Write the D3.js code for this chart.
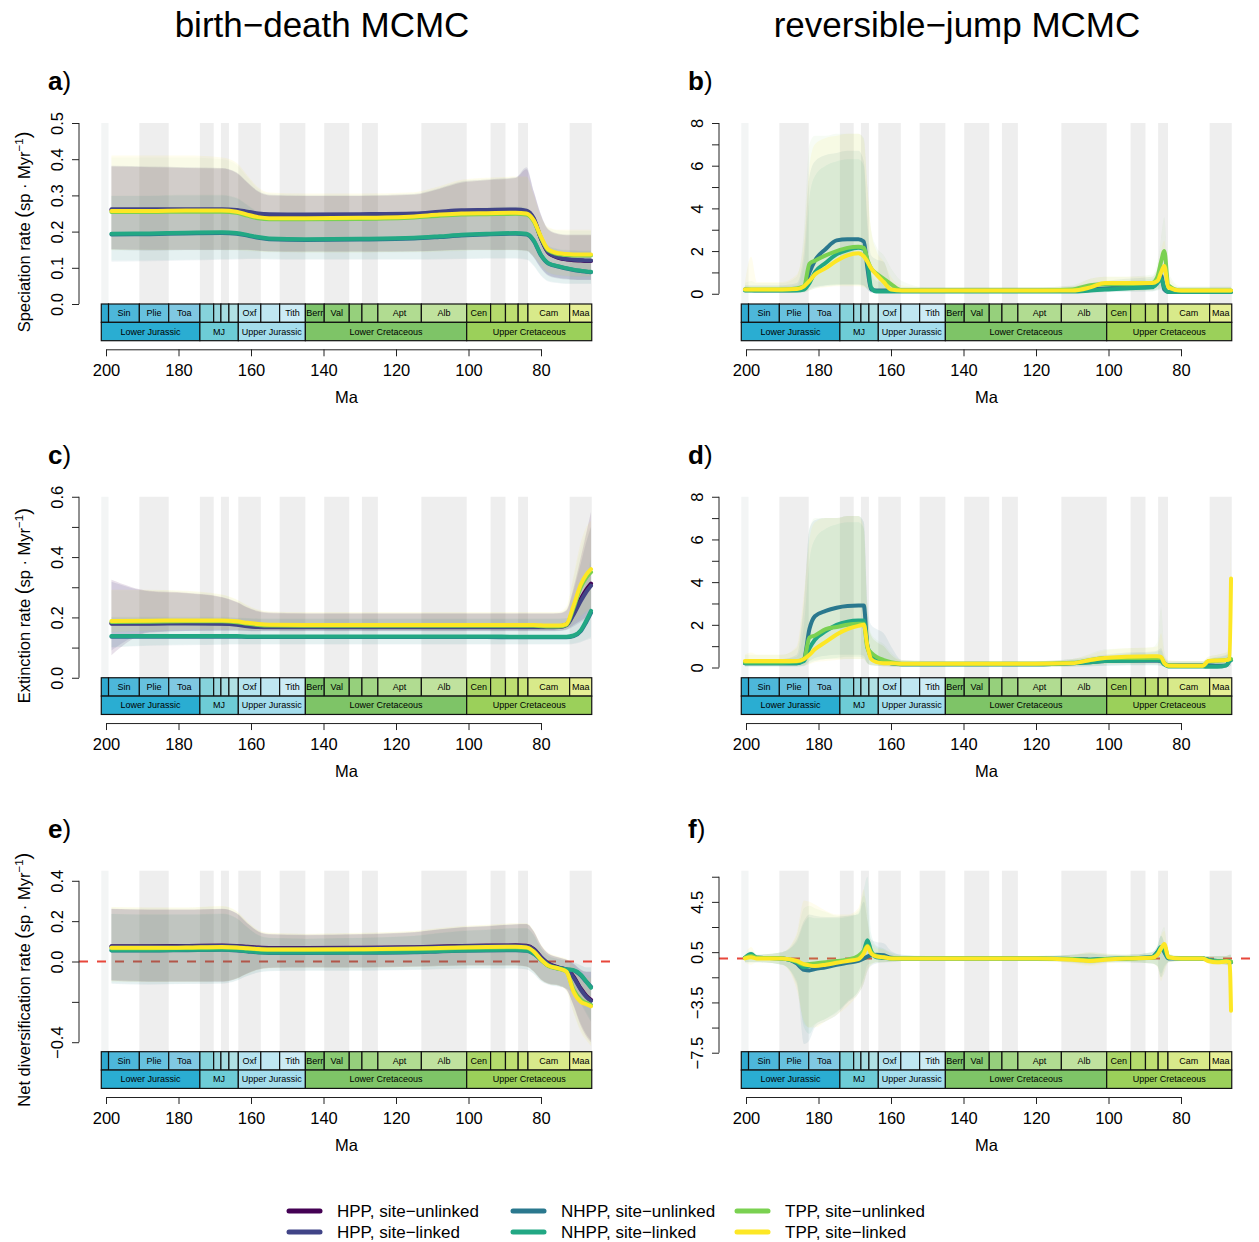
<!DOCTYPE html>
<html>
<head>
<meta charset="utf-8">
<script src="https://cdn.jsdelivr.net/npm/d3@7/dist/d3.min.js"></script>
<style>
body{margin:0;background:#fff;}
svg text{font-family:"Liberation Sans",Arial,Helvetica,sans-serif;fill:#000;}
</style>
</head>
<body>
<svg id="fig" width="1259" height="1242" xmlns="http://www.w3.org/2000/svg"></svg>
<script>
// ---------------- series ----------------
const seriesNames = ["HPP, site\u2212unlinked","HPP, site\u2212linked","NHPP, site\u2212unlinked","NHPP, site\u2212linked","TPP, site\u2212unlinked","TPP, site\u2212linked"];
const seriesColors = ["#440154","#414487","#2A788E","#22A884","#7AD151","#FDE725"];
const bdSeries = [0,1,2,3,4,5];
const rjSeries = [2,3,4,5];
const bandAlphaBD = [0.12,0.12,0.07,0.05,0.035,0.08];
const bandAlphaRJ = [0.09,0.07,0.06,0.08];

// ---------------- geological timescale ----------------
const stageLabels = ["","Sin","Plie","Toa","","","","","Oxf","","Tith","Berr","Val","","","Apt","Alb","Cen","","","","Cam","Maa"];
const stageStart = [201.3,199.3,190.8,182.7,174.1,170.3,168.3,166.1,163.5,157.3,152.1,145.0,139.8,132.9,129.4,125.0,113.0,100.5,93.9,89.8,86.3,83.6,72.1];
const stageEnd   = [199.3,190.8,182.7,174.1,170.3,168.3,166.1,163.5,157.3,152.1,145.0,139.8,132.9,129.4,125.0,113.0,100.5,93.9,89.8,86.3,83.6,72.1,66.0];
const stageColors = ["#2FA9CF","#4DB7DA","#67C1DE","#80C8E2","#86D3DB","#99D8DF","#A6DDE2","#B0E1E4","#B5E3EF","#BFE7F2","#CCECF5",
                     "#7DC46B","#8ACB73","#96D07C","#A3D686","#B1DC91","#C0E29E","#ABD668","#B4DA6C","#BEDF72","#C9E47A","#D8EA8A","#E6EF96"];
const epochLabels = ["Lower Jurassic","MJ","Upper Jurassic","Lower Cretaceous","Upper Cretaceous"];
const epochStart = [201.3,174.1,163.5,145.0,100.5];
const epochEnd   = [174.1,163.5,145.0,100.5,66.0];
const epochColors = ["#2AADD2","#6DCCD6","#A4DDEC","#7EC467","#9BD05A"];
const xTicks = [200,180,160,140,120,100,80];

// ---------------- birth-death MCMC (ages in Ma) ----------------
const agesBD = [198.5,188,178,168,164,161,158,155,145,130,115,108,102,95,87,84,82,80,78,75,73,71,69,67.5,66.2];

// a) speciation
const aMean = [
 [0.260,0.260,0.260,0.260,0.258,0.253,0.248,0.246,0.245,0.246,0.248,0.253,0.257,0.258,0.259,0.256,0.234,0.180,0.142,0.127,0.123,0.121,0.120,0.119,0.119],
 [0.262,0.262,0.262,0.262,0.260,0.255,0.250,0.248,0.247,0.248,0.250,0.255,0.259,0.260,0.261,0.258,0.237,0.182,0.143,0.128,0.124,0.122,0.121,0.120,0.120],
 [0.192,0.193,0.195,0.196,0.194,0.189,0.183,0.179,0.177,0.178,0.181,0.185,0.189,0.192,0.194,0.192,0.174,0.134,0.112,0.103,0.098,0.094,0.091,0.089,0.088],
 [0.194,0.195,0.197,0.198,0.196,0.191,0.185,0.181,0.179,0.180,0.183,0.187,0.191,0.194,0.196,0.194,0.176,0.136,0.113,0.104,0.099,0.095,0.092,0.090,0.089],
 [0.254,0.254,0.255,0.255,0.252,0.244,0.237,0.234,0.234,0.235,0.239,0.244,0.247,0.248,0.249,0.247,0.228,0.183,0.148,0.137,0.135,0.134,0.134,0.134,0.134],
 [0.257,0.257,0.258,0.258,0.255,0.247,0.240,0.237,0.237,0.238,0.242,0.247,0.250,0.251,0.252,0.250,0.231,0.186,0.151,0.140,0.138,0.137,0.137,0.137,0.137]];
const aLow = [
 [0.152,0.150,0.150,0.150,0.150,0.150,0.148,0.146,0.145,0.145,0.146,0.148,0.150,0.150,0.150,0.148,0.130,0.100,0.080,0.072,0.070,0.068,0.067,0.067,0.067],
 [0.150,0.148,0.149,0.149,0.149,0.149,0.147,0.145,0.144,0.144,0.145,0.147,0.149,0.149,0.149,0.147,0.128,0.098,0.078,0.070,0.068,0.067,0.066,0.066,0.066],
 [0.117,0.118,0.120,0.122,0.123,0.124,0.124,0.123,0.122,0.122,0.122,0.123,0.124,0.125,0.125,0.122,0.105,0.078,0.062,0.057,0.055,0.055,0.055,0.055,0.055],
 [0.120,0.121,0.122,0.124,0.125,0.126,0.126,0.125,0.124,0.124,0.124,0.125,0.126,0.127,0.127,0.124,0.107,0.080,0.064,0.059,0.057,0.057,0.057,0.057,0.057],
 [0.148,0.147,0.148,0.148,0.147,0.146,0.144,0.142,0.141,0.141,0.142,0.144,0.146,0.147,0.147,0.145,0.130,0.105,0.085,0.078,0.076,0.075,0.075,0.075,0.075],
 [0.150,0.149,0.150,0.150,0.149,0.148,0.146,0.144,0.143,0.143,0.144,0.146,0.148,0.149,0.149,0.147,0.132,0.107,0.087,0.080,0.078,0.077,0.077,0.077,0.077]];
const aHigh = [
 [0.380,0.378,0.376,0.374,0.362,0.335,0.310,0.300,0.298,0.298,0.302,0.318,0.335,0.342,0.348,0.372,0.310,0.245,0.205,0.192,0.190,0.190,0.190,0.190,0.190],
 [0.382,0.380,0.378,0.376,0.364,0.337,0.312,0.302,0.300,0.300,0.304,0.320,0.338,0.344,0.350,0.378,0.312,0.247,0.207,0.194,0.192,0.192,0.192,0.192,0.192],
 [0.298,0.298,0.300,0.300,0.292,0.272,0.252,0.242,0.240,0.240,0.244,0.252,0.260,0.265,0.268,0.264,0.238,0.190,0.160,0.150,0.148,0.147,0.146,0.146,0.146],
 [0.300,0.300,0.302,0.302,0.294,0.274,0.254,0.244,0.242,0.242,0.246,0.254,0.262,0.267,0.270,0.266,0.240,0.192,0.162,0.152,0.150,0.149,0.148,0.148,0.148],
 [0.405,0.405,0.405,0.400,0.385,0.350,0.318,0.305,0.302,0.302,0.306,0.322,0.340,0.346,0.350,0.350,0.300,0.240,0.210,0.203,0.202,0.202,0.202,0.202,0.202],
 [0.410,0.410,0.410,0.405,0.390,0.355,0.322,0.308,0.305,0.305,0.309,0.325,0.343,0.349,0.352,0.352,0.302,0.242,0.212,0.205,0.205,0.205,0.205,0.205,0.205]];

// c) extinction
const cMean = [
 [0.181,0.181,0.182,0.181,0.178,0.173,0.170,0.169,0.169,0.169,0.169,0.169,0.169,0.169,0.169,0.169,0.169,0.169,0.169,0.170,0.176,0.215,0.262,0.292,0.312],
 [0.179,0.179,0.180,0.179,0.176,0.171,0.168,0.167,0.167,0.167,0.167,0.167,0.167,0.167,0.167,0.167,0.167,0.167,0.167,0.168,0.174,0.210,0.255,0.285,0.305],
 [0.136,0.136,0.136,0.136,0.136,0.135,0.135,0.135,0.135,0.135,0.135,0.135,0.135,0.135,0.134,0.134,0.134,0.134,0.134,0.134,0.134,0.138,0.155,0.185,0.215],
 [0.138,0.138,0.138,0.138,0.138,0.137,0.137,0.137,0.137,0.137,0.137,0.137,0.137,0.137,0.136,0.136,0.136,0.136,0.136,0.136,0.136,0.140,0.158,0.190,0.222],
 [0.185,0.186,0.187,0.187,0.184,0.179,0.175,0.173,0.172,0.172,0.172,0.172,0.172,0.172,0.172,0.172,0.172,0.171,0.170,0.170,0.175,0.232,0.300,0.332,0.350],
 [0.188,0.189,0.190,0.190,0.187,0.182,0.178,0.176,0.175,0.175,0.175,0.175,0.175,0.175,0.175,0.175,0.175,0.174,0.173,0.173,0.178,0.240,0.310,0.342,0.360]];
const cLow = [
 [0.075,0.150,0.155,0.157,0.157,0.156,0.155,0.155,0.155,0.155,0.155,0.155,0.155,0.155,0.155,0.155,0.155,0.155,0.155,0.156,0.160,0.175,0.190,0.200,0.210],
 [0.090,0.152,0.155,0.156,0.156,0.155,0.154,0.154,0.154,0.154,0.154,0.154,0.154,0.154,0.154,0.154,0.154,0.154,0.154,0.155,0.158,0.170,0.185,0.195,0.205],
 [0.100,0.106,0.108,0.109,0.110,0.110,0.110,0.110,0.110,0.110,0.110,0.110,0.110,0.110,0.110,0.110,0.110,0.110,0.110,0.110,0.110,0.112,0.118,0.125,0.130],
 [0.102,0.108,0.110,0.111,0.112,0.112,0.112,0.112,0.112,0.112,0.112,0.112,0.112,0.112,0.112,0.112,0.112,0.112,0.112,0.112,0.112,0.114,0.120,0.128,0.135],
 [0.150,0.155,0.158,0.159,0.158,0.157,0.156,0.156,0.156,0.156,0.156,0.156,0.156,0.156,0.156,0.156,0.156,0.156,0.156,0.157,0.160,0.180,0.200,0.215,0.225],
 [0.152,0.157,0.160,0.161,0.160,0.159,0.158,0.158,0.158,0.158,0.158,0.158,0.158,0.158,0.158,0.158,0.158,0.158,0.158,0.159,0.162,0.185,0.205,0.220,0.230]];
const cHigh = [
 [0.325,0.288,0.282,0.268,0.252,0.234,0.221,0.216,0.214,0.214,0.214,0.214,0.214,0.214,0.214,0.214,0.214,0.214,0.214,0.215,0.225,0.300,0.400,0.480,0.550],
 [0.318,0.286,0.280,0.266,0.250,0.232,0.219,0.214,0.212,0.212,0.212,0.212,0.212,0.212,0.212,0.212,0.212,0.212,0.212,0.213,0.222,0.290,0.380,0.450,0.500],
 [0.200,0.200,0.200,0.200,0.198,0.196,0.195,0.195,0.195,0.195,0.195,0.195,0.195,0.195,0.195,0.195,0.195,0.195,0.195,0.195,0.196,0.210,0.250,0.320,0.380],
 [0.202,0.202,0.202,0.202,0.200,0.198,0.197,0.197,0.197,0.197,0.197,0.197,0.197,0.197,0.197,0.197,0.197,0.197,0.197,0.197,0.198,0.215,0.260,0.330,0.400],
 [0.290,0.290,0.286,0.274,0.258,0.238,0.224,0.218,0.216,0.216,0.216,0.216,0.216,0.216,0.216,0.216,0.216,0.216,0.216,0.217,0.230,0.330,0.430,0.480,0.500],
 [0.292,0.292,0.288,0.276,0.260,0.240,0.226,0.220,0.218,0.218,0.218,0.218,0.218,0.218,0.218,0.218,0.218,0.218,0.218,0.219,0.235,0.340,0.450,0.500,0.520]];

// e) net diversification
const eMean = [
 [0.076,0.076,0.077,0.079,0.077,0.073,0.069,0.067,0.067,0.068,0.071,0.074,0.077,0.079,0.080,0.078,0.062,0.022,-0.010,-0.030,-0.040,-0.075,-0.135,-0.170,-0.190],
 [0.074,0.074,0.075,0.077,0.075,0.071,0.067,0.065,0.065,0.066,0.069,0.072,0.075,0.077,0.078,0.076,0.060,0.020,-0.012,-0.032,-0.042,-0.080,-0.140,-0.175,-0.195],
 [0.054,0.054,0.056,0.058,0.055,0.050,0.045,0.042,0.042,0.043,0.046,0.050,0.053,0.055,0.056,0.053,0.038,0.008,-0.020,-0.035,-0.040,-0.045,-0.070,-0.100,-0.125],
 [0.056,0.056,0.058,0.060,0.057,0.052,0.047,0.044,0.044,0.045,0.048,0.052,0.055,0.057,0.058,0.055,0.040,0.010,-0.018,-0.033,-0.038,-0.043,-0.065,-0.100,-0.130],
 [0.066,0.066,0.067,0.070,0.068,0.064,0.060,0.058,0.058,0.059,0.062,0.065,0.068,0.070,0.071,0.068,0.048,0.008,-0.022,-0.037,-0.050,-0.140,-0.190,-0.205,-0.215],
 [0.068,0.068,0.069,0.072,0.070,0.066,0.062,0.060,0.060,0.061,0.064,0.067,0.070,0.072,0.073,0.070,0.050,0.010,-0.020,-0.035,-0.050,-0.150,-0.200,-0.212,-0.222]];
const eLow = [
 [-0.095,-0.100,-0.100,-0.100,-0.085,-0.060,-0.040,-0.032,-0.030,-0.030,-0.026,-0.022,-0.020,-0.020,-0.020,-0.025,-0.050,-0.090,-0.110,-0.120,-0.140,-0.220,-0.320,-0.370,-0.400],
 [-0.092,-0.098,-0.098,-0.098,-0.083,-0.058,-0.038,-0.030,-0.028,-0.028,-0.024,-0.020,-0.018,-0.018,-0.018,-0.023,-0.048,-0.088,-0.108,-0.118,-0.138,-0.215,-0.310,-0.360,-0.390],
 [-0.110,-0.115,-0.112,-0.110,-0.095,-0.072,-0.055,-0.048,-0.046,-0.046,-0.042,-0.038,-0.036,-0.035,-0.035,-0.040,-0.062,-0.098,-0.115,-0.125,-0.135,-0.160,-0.210,-0.260,-0.300],
 [-0.108,-0.112,-0.110,-0.108,-0.093,-0.070,-0.053,-0.046,-0.044,-0.044,-0.040,-0.036,-0.034,-0.033,-0.033,-0.038,-0.060,-0.096,-0.113,-0.123,-0.133,-0.158,-0.205,-0.250,-0.290],
 [-0.100,-0.102,-0.102,-0.100,-0.087,-0.062,-0.042,-0.034,-0.032,-0.032,-0.028,-0.024,-0.022,-0.022,-0.022,-0.027,-0.052,-0.092,-0.112,-0.122,-0.145,-0.250,-0.340,-0.380,-0.410],
 [-0.098,-0.100,-0.100,-0.098,-0.085,-0.060,-0.040,-0.032,-0.030,-0.030,-0.026,-0.022,-0.020,-0.020,-0.020,-0.025,-0.050,-0.090,-0.110,-0.120,-0.145,-0.255,-0.350,-0.390,-0.420]];
const eHigh = [
 [0.262,0.258,0.258,0.262,0.240,0.190,0.150,0.136,0.132,0.136,0.146,0.160,0.170,0.176,0.185,0.186,0.150,0.080,0.040,0.020,0.010,-0.010,-0.040,-0.050,-0.050],
 [0.260,0.256,0.256,0.260,0.238,0.188,0.148,0.134,0.130,0.134,0.144,0.158,0.168,0.174,0.183,0.184,0.148,0.078,0.038,0.018,0.008,-0.012,-0.042,-0.052,-0.052],
 [0.235,0.232,0.232,0.236,0.214,0.168,0.130,0.116,0.112,0.116,0.126,0.140,0.150,0.156,0.164,0.164,0.130,0.064,0.028,0.010,0.002,-0.005,-0.020,-0.030,-0.030],
 [0.237,0.234,0.234,0.238,0.216,0.170,0.132,0.118,0.114,0.118,0.128,0.142,0.152,0.158,0.166,0.166,0.132,0.066,0.030,0.012,0.004,-0.003,-0.018,-0.028,-0.028],
 [0.268,0.266,0.266,0.272,0.248,0.196,0.154,0.140,0.136,0.140,0.150,0.164,0.174,0.180,0.188,0.188,0.152,0.082,0.042,0.022,0.012,-0.020,-0.060,-0.070,-0.070],
 [0.270,0.268,0.268,0.275,0.250,0.198,0.156,0.142,0.138,0.142,0.152,0.166,0.176,0.182,0.190,0.190,0.154,0.084,0.044,0.024,0.014,-0.025,-0.070,-0.080,-0.080]];

// ---------------- reversible-jump MCMC (NHPP/TPP runs) ----------------
const agesRJ = [200.3,198.6,197,190,186,184,182.5,181,178,175,172,169,167.5,166.5,165.5,164,162,160,157,150,120,110,105,101,95,88,86.5,85.5,84.6,83.5,80,74,72.5,70,67.5,66.6,66.2];

// b) speciation
const bMean = [
 [0.20,0.18,0.17,0.17,0.18,0.30,1.00,1.55,2.10,2.50,2.55,2.55,2.45,1.20,0.20,0.15,0.15,0.15,0.15,0.15,0.15,0.15,0.20,0.25,0.30,0.35,0.70,0.85,0.20,0.08,0.08,0.08,0.08,0.08,0.08,0.08,0.08],
 [0.15,0.15,0.15,0.15,0.15,0.20,0.50,1.00,1.45,1.85,2.05,2.15,2.10,1.50,0.30,0.10,0.10,0.10,0.10,0.10,0.10,0.10,0.15,0.20,0.25,0.30,0.50,0.70,0.30,0.08,0.08,0.08,0.08,0.08,0.08,0.08,0.08],
 [0.20,0.20,0.20,0.20,0.25,0.35,1.40,1.55,1.80,2.00,2.15,2.20,2.15,1.60,1.20,0.95,0.70,0.45,0.15,0.15,0.15,0.20,0.40,0.45,0.45,0.50,0.80,1.50,2.00,0.40,0.15,0.15,0.15,0.15,0.15,0.15,0.15],
 [0.20,0.20,0.20,0.20,0.22,0.35,0.60,0.90,1.20,1.55,1.80,1.90,1.75,1.50,1.20,0.90,0.55,0.20,0.15,0.15,0.15,0.15,0.30,0.50,0.50,0.50,0.60,1.00,1.30,0.30,0.15,0.15,0.15,0.15,0.15,0.15,0.15]];
const bLow = [
 [0.05,0.05,0.05,0.05,0.05,0.08,0.20,0.30,0.40,0.45,0.45,0.45,0.40,0.20,0.05,0.03,0.03,0.03,0.03,0.03,0.03,0.03,0.05,0.08,0.10,0.12,0.20,0.25,0.05,0.02,0.02,0.02,0.02,0.02,0.02,0.02,0.02],
 [0.05,0.05,0.05,0.05,0.05,0.06,0.15,0.25,0.35,0.40,0.42,0.42,0.38,0.20,0.05,0.03,0.03,0.03,0.03,0.03,0.03,0.03,0.05,0.07,0.09,0.10,0.15,0.20,0.05,0.02,0.02,0.02,0.02,0.02,0.02,0.02,0.02],
 [0.05,0.05,0.05,0.05,0.06,0.10,0.30,0.35,0.40,0.40,0.40,0.40,0.35,0.25,0.15,0.10,0.08,0.05,0.04,0.04,0.04,0.05,0.10,0.15,0.15,0.18,0.25,0.40,0.50,0.10,0.04,0.04,0.04,0.04,0.04,0.04,0.04],
 [0.05,0.05,0.05,0.05,0.06,0.08,0.15,0.25,0.30,0.35,0.35,0.35,0.30,0.25,0.15,0.10,0.08,0.05,0.04,0.04,0.04,0.04,0.08,0.15,0.15,0.15,0.20,0.30,0.35,0.08,0.04,0.04,0.04,0.04,0.04,0.04,0.04]];
const bHigh = [
 [0.40,0.40,0.40,0.40,0.50,2.00,5.50,6.20,6.50,6.60,6.70,6.70,6.20,3.50,1.80,1.60,1.50,0.60,0.30,0.30,0.30,0.35,0.50,0.60,0.70,0.80,1.20,1.80,1.00,0.30,0.30,0.30,0.30,0.30,0.30,0.30,0.30],
 [0.35,0.35,0.35,0.35,0.40,1.50,4.50,5.50,6.00,6.20,6.30,6.30,6.00,3.00,1.00,0.60,0.50,0.40,0.30,0.30,0.30,0.30,0.45,0.55,0.60,0.70,1.00,1.50,0.80,0.30,0.30,0.30,0.30,0.30,0.30,0.30,0.30],
 [0.50,0.60,0.50,0.50,0.80,3.00,7.00,7.40,7.40,7.50,7.50,7.50,7.30,5.00,3.00,2.20,1.80,1.20,0.60,0.30,0.30,0.40,0.70,0.80,0.80,0.90,1.50,2.60,3.60,1.00,0.35,0.35,0.35,0.35,0.35,0.35,0.35],
 [0.50,1.73,0.55,0.55,0.90,2.50,6.00,7.00,7.30,7.40,7.50,7.50,7.20,5.00,3.00,2.00,1.50,0.80,0.40,0.30,0.30,0.35,0.70,0.80,0.80,0.80,1.20,2.00,2.50,0.80,0.30,0.30,0.30,0.30,0.30,0.30,0.30]];

// d) extinction
const dMean = [
 [0.20,0.20,0.20,0.20,0.20,0.40,1.80,2.40,2.65,2.80,2.88,2.90,2.90,1.00,0.60,0.45,0.30,0.20,0.15,0.15,0.15,0.20,0.25,0.30,0.32,0.32,0.32,0.30,0.15,0.10,0.10,0.10,0.10,0.08,0.10,0.30,0.35],
 [0.20,0.20,0.20,0.20,0.20,0.30,0.90,1.30,1.70,2.00,2.15,2.20,2.20,1.00,0.50,0.35,0.25,0.20,0.15,0.15,0.15,0.20,0.25,0.30,0.32,0.35,0.35,0.30,0.15,0.05,0.05,0.05,0.03,0.03,0.10,0.30,0.35],
 [0.25,0.25,0.25,0.25,0.28,0.40,1.40,1.50,1.80,1.90,2.00,2.05,2.05,0.90,0.70,0.50,0.35,0.25,0.18,0.18,0.18,0.22,0.35,0.45,0.45,0.45,0.45,0.45,0.20,0.10,0.08,0.08,0.28,0.32,0.35,0.40,0.40],
 [0.30,0.30,0.30,0.30,0.30,0.40,0.60,0.85,1.20,1.55,1.80,1.95,2.00,1.00,0.40,0.25,0.20,0.20,0.18,0.18,0.18,0.20,0.35,0.45,0.50,0.53,0.53,0.50,0.20,0.08,0.08,0.08,0.30,0.33,0.35,0.40,4.17]];
const dLow = [
 [0.05,0.05,0.05,0.05,0.05,0.08,0.30,0.45,0.55,0.60,0.60,0.60,0.55,0.20,0.10,0.08,0.06,0.05,0.04,0.04,0.04,0.05,0.06,0.08,0.10,0.10,0.10,0.08,0.04,0.02,0.02,0.02,0.02,0.01,0.02,0.05,0.08],
 [0.05,0.05,0.05,0.05,0.05,0.06,0.20,0.30,0.40,0.45,0.50,0.50,0.45,0.20,0.10,0.08,0.06,0.05,0.04,0.04,0.04,0.05,0.06,0.08,0.10,0.10,0.10,0.08,0.04,0.01,0.01,0.01,0.01,0.01,0.02,0.05,0.08],
 [0.06,0.06,0.06,0.06,0.07,0.10,0.30,0.35,0.40,0.40,0.40,0.40,0.40,0.20,0.15,0.10,0.08,0.06,0.05,0.05,0.05,0.06,0.10,0.15,0.15,0.15,0.15,0.15,0.05,0.02,0.02,0.02,0.08,0.10,0.10,0.12,0.15],
 [0.08,0.08,0.08,0.08,0.08,0.10,0.15,0.25,0.30,0.35,0.40,0.40,0.40,0.20,0.10,0.08,0.06,0.06,0.05,0.05,0.05,0.06,0.10,0.15,0.18,0.18,0.18,0.15,0.05,0.02,0.02,0.02,0.08,0.10,0.10,0.12,1.20]];
const dHigh = [
 [0.40,0.40,0.40,0.40,0.60,3.00,6.50,6.90,7.00,7.00,7.10,7.10,6.80,3.00,2.00,1.80,1.60,1.00,0.35,0.30,0.30,0.40,0.50,0.60,0.70,0.75,0.80,0.90,0.50,0.30,0.30,0.30,0.40,0.50,0.60,0.80,1.00],
 [0.40,0.40,0.40,0.40,0.50,2.00,5.00,6.00,6.50,6.70,6.80,6.80,6.50,2.50,1.50,1.20,1.00,0.60,0.30,0.30,0.30,0.35,0.45,0.55,0.65,0.70,0.75,0.80,0.40,0.25,0.25,0.25,0.35,0.45,0.55,0.70,0.90],
 [0.60,0.60,0.60,0.60,0.90,3.20,6.50,7.00,7.00,7.00,7.10,7.10,6.80,2.80,1.60,1.30,1.10,0.70,0.35,0.30,0.30,0.40,0.65,0.85,0.90,0.95,1.20,2.85,0.80,0.35,0.30,0.30,0.50,0.60,0.70,0.90,1.20],
 [0.60,0.70,0.60,0.60,1.00,3.50,6.00,6.80,7.00,7.00,7.10,7.10,6.50,2.50,1.50,1.20,1.00,0.60,0.35,0.30,0.30,0.40,0.60,0.80,0.90,0.95,1.00,1.60,0.60,0.30,0.30,0.30,0.50,0.60,0.70,1.50,6.75]];

// f) net diversification
const fMean = [
 [0.05,0.20,0.05,0.00,-0.40,-0.90,-0.95,-0.85,-0.70,-0.50,-0.35,-0.20,0.00,0.15,0.25,0.30,0.25,0.05,0.00,0.00,0.00,-0.05,-0.10,-0.05,0.00,0.10,0.50,0.90,0.50,0.00,0.00,0.00,-0.10,-0.20,-0.20,-0.25,-0.30],
 [0.05,0.35,0.05,0.00,-0.30,-0.70,-0.60,-0.50,-0.40,-0.30,-0.15,0.10,0.60,1.45,0.60,0.10,0.05,0.00,0.00,0.00,0.00,-0.05,-0.10,-0.05,0.00,0.10,0.50,0.90,0.60,0.05,0.00,0.00,-0.10,-0.20,-0.20,-0.25,-0.30],
 [0.05,0.20,0.05,0.00,-0.25,-0.50,-0.45,-0.40,-0.30,-0.20,-0.10,0.20,0.60,1.00,0.50,0.20,0.10,0.00,0.00,0.00,0.00,-0.05,-0.15,-0.05,0.00,0.05,0.30,0.80,1.00,0.10,0.00,0.00,-0.15,-0.25,-0.20,-0.25,-0.25],
 [0.00,0.10,0.00,0.00,-0.20,-0.45,-0.55,-0.60,-0.50,-0.35,-0.20,-0.05,0.40,0.95,0.40,0.15,0.10,0.00,0.00,0.00,0.00,-0.10,-0.20,-0.10,0.00,0.05,0.30,0.80,1.15,0.10,0.00,0.00,-0.20,-0.30,-0.25,-0.30,-4.16]];
const fLow = [
 [-0.30,-0.30,-0.30,-0.50,-2.00,-6.80,-6.50,-5.50,-5.00,-4.50,-3.50,-2.80,-2.00,-1.00,-0.60,-0.40,-0.30,-0.30,-0.20,-0.20,-0.20,-0.30,-0.40,-0.30,-0.30,-0.40,-0.60,-1.50,-0.80,-0.30,-0.20,-0.20,-0.30,-0.40,-0.50,-0.60,-0.70],
 [-0.30,-0.30,-0.30,-0.50,-1.80,-5.50,-6.00,-5.30,-4.80,-4.30,-3.40,-2.60,-1.50,-0.50,-0.40,-0.30,-0.30,-0.25,-0.20,-0.20,-0.20,-0.30,-0.40,-0.30,-0.30,-0.40,-0.60,-1.20,-0.60,-0.30,-0.20,-0.20,-0.30,-0.40,-0.50,-0.60,-0.70],
 [-0.30,-0.30,-0.30,-0.50,-2.20,-5.20,-5.50,-5.20,-4.80,-4.20,-3.50,-2.60,-1.80,-0.80,-0.50,-0.30,-0.30,-0.25,-0.20,-0.20,-0.20,-0.35,-0.50,-0.35,-0.30,-0.40,-0.60,-1.50,-1.20,-0.30,-0.20,-0.20,-0.40,-0.50,-0.50,-0.60,-0.80],
 [-0.30,-0.50,-0.30,-0.50,-2.50,-5.00,-5.50,-5.50,-5.00,-4.50,-3.80,-2.80,-2.00,-1.00,-0.50,-0.30,-0.30,-0.25,-0.20,-0.20,-0.20,-0.40,-0.60,-0.40,-0.30,-0.40,-0.70,-1.80,-1.00,-0.30,-0.20,-0.20,-0.40,-0.50,-0.50,-0.80,-6.60]];
const fHigh = [
 [0.30,0.50,0.30,0.50,1.50,3.00,3.50,3.40,3.30,3.30,3.40,3.50,4.50,3.00,1.50,1.30,1.20,0.60,0.30,0.20,0.20,0.30,0.40,0.30,0.30,0.50,1.00,1.80,1.20,0.30,0.20,0.20,0.20,0.20,0.20,0.30,0.30],
 [0.30,0.60,0.30,0.50,1.30,2.80,3.30,3.20,3.20,3.20,3.30,3.60,5.50,6.50,2.00,1.00,0.80,0.50,0.30,0.20,0.20,0.30,0.40,0.30,0.30,0.50,1.00,1.80,1.30,0.30,0.20,0.20,0.20,0.20,0.20,0.30,0.30],
 [0.30,0.50,0.30,0.50,1.80,4.00,4.20,4.00,3.70,3.40,3.40,3.80,5.00,4.00,1.50,0.90,0.70,0.40,0.20,0.20,0.20,0.30,0.50,0.40,0.30,0.50,1.00,2.00,2.50,0.40,0.20,0.20,0.20,0.20,0.20,0.30,0.30],
 [0.30,0.90,0.30,0.50,2.00,4.60,4.50,4.30,3.80,3.50,3.50,4.00,5.50,3.00,1.30,0.80,0.70,0.40,0.20,0.20,0.20,0.30,0.50,0.40,0.30,0.40,0.80,1.80,2.20,0.40,0.20,0.20,0.20,0.20,0.20,0.30,0.30]];

// y-axis ticks and labels
const aTicks=[0,0.1,0.2,0.3,0.4,0.5], aTickLab=["0.0","0.1","0.2","0.3","0.4","0.5"];
const cTicks=[0,0.1,0.2,0.3,0.4,0.5,0.6], cTickLab=["0.0","","0.2","","0.4","","0.6"];
const eTicks=[-0.4,-0.2,0,0.2,0.4], eTickLab=["\u22120.4","","0.0","0.2","0.4"];
const rjTicks=[0,1,2,3,4,5,6,7,8], rjTickLab=["0","","2","","4","","6","","8"];
const fTicks=[-7.5,-5.5,-3.5,-1.5,0.5,2.5,4.5,6.5], fTickLab=["\u22127.5","","\u22123.5","","0.5","","4.5",""];

// ---------------- drawing ----------------
const svg = d3.select("#fig");
svg.append("rect").attr("width",1259).attr("height",1242).attr("fill","#fff");
const FONT = '"Liberation Sans",Arial,Helvetica,sans-serif';
const colX=[0,640], rowY=[0,373.75,747.7];
const PT=123, PB=304, TS1=322.35, TS2=340.7, XAX=349.3;

svg.append("text").attr("x",322).attr("y",37).attr("text-anchor","middle").attr("font-size",35).text("birth\u2212death MCMC");
svg.append("text").attr("x",957).attr("y",37).attr("text-anchor","middle").attr("font-size",35).text("reversible\u2212jump MCMC");

function drawPanel(p){
  const g = svg.append("g").attr("transform",`translate(${colX[p.col]},${rowY[p.row]})`);
  const x = d3.scaleLinear().domain([200,80]).range([106,541]);
  const y = d3.scaleLinear().domain(p.yDomain).range([PB,PT]);
  const idx = d3.range(stageStart.length);

  // alternating stage shading
  g.append("g").selectAll("rect").data(idx.filter(i=>i%2===0)).join("rect")
    .attr("x",i=>x(stageStart[i])).attr("width",i=>x(stageEnd[i])-x(stageStart[i]))
    .attr("y",PT).attr("height",PB-PT).attr("fill",i=>i===0?"#F3F5F5":"#EEEEEE");

  if(p.zero){
    g.append("line").attr("x1",79).attr("x2",612).attr("y1",y(0)).attr("y2",y(0))
      .attr("stroke","#E8473B").attr("stroke-width",2).attr("stroke-dasharray","9,9");
  }

  const pts = d3.range(p.ages.length);
  const area = (lo,hi)=>d3.area().x(j=>x(p.ages[j])).y0(j=>y(lo[j])).y1(j=>y(hi[j])).curve(d3.curveMonotoneX);
  const line = (m)=>d3.line().x(j=>x(p.ages[j])).y(j=>y(m[j])).curve(d3.curveMonotoneX);

  const bands = g.append("g");
  p.series.forEach((s,k)=>{
    bands.append("path").datum(pts).attr("d",area(p.low[k],p.high[k]))
      .attr("fill",seriesColors[s]).attr("fill-opacity",p.alpha[k]);
  });
  const lines = g.append("g");
  p.series.forEach((s,k)=>{
    lines.append("path").datum(pts).attr("d",line(p.mean[k]))
      .attr("fill","none").attr("stroke",seriesColors[s]).attr("stroke-width",4)
      .attr("stroke-linejoin","round").attr("stroke-linecap","round");
  });

  // timescale
  const ts = g.append("g");
  ts.selectAll("rect.st").data(idx).join("rect").attr("class","st")
    .attr("x",i=>x(stageStart[i])).attr("width",i=>x(stageEnd[i])-x(stageStart[i]))
    .attr("y",PB).attr("height",TS1-PB).attr("fill",i=>stageColors[i])
    .attr("stroke","#111").attr("stroke-width",1.2);
  ts.selectAll("text.st").data(idx.filter(i=>stageLabels[i])).join("text").attr("class","st")
    .attr("x",i=>(x(stageStart[i])+x(stageEnd[i]))/2).attr("y",(PB+TS1)/2+3.2)
    .attr("text-anchor","middle").attr("font-size",9).attr("fill","#222").text(i=>stageLabels[i]);
  const ei = d3.range(epochLabels.length);
  ts.selectAll("rect.ep").data(ei).join("rect").attr("class","ep")
    .attr("x",i=>x(epochStart[i])).attr("width",i=>x(epochEnd[i])-x(epochStart[i]))
    .attr("y",TS1).attr("height",TS2-TS1).attr("fill",i=>epochColors[i])
    .attr("stroke","#111").attr("stroke-width",1.2);
  ts.selectAll("text.ep").data(ei).join("text").attr("class","ep")
    .attr("x",i=>(x(epochStart[i])+x(epochEnd[i]))/2).attr("y",(TS1+TS2)/2+3.2)
    .attr("text-anchor","middle").attr("font-size",9).attr("fill","#222").text(i=>epochLabels[i]);

  // x axis
  const xa = g.append("g").attr("transform",`translate(0,${XAX})`)
    .call(d3.axisBottom(x).tickValues(xTicks).tickFormat(d3.format("d")).tickSize(7).tickPadding(8).tickSizeOuter(0));
  xa.attr("font-size",16.5).attr("font-family",FONT);
  xa.selectAll("path,line").attr("stroke","#222");
  xa.selectAll("text").attr("fill","#000");
  g.append("text").attr("x",346.5).attr("y",403).attr("text-anchor","middle").attr("font-size",16.5).text("Ma");

  // y axis
  const ya = g.append("g").attr("transform","translate(79,0)")
    .call(d3.axisLeft(y).tickValues(p.ticks).tickFormat((d,i)=>p.tickLab[i]).tickSize(7).tickSizeOuter(0));
  ya.attr("font-size",16.5).attr("font-family",FONT);
  ya.select(".domain").attr("d",`M0,${y(p.ticks[0])}V${y(p.ticks[p.ticks.length-1])}`);
  ya.selectAll("path,line").attr("stroke","#222");
  ya.selectAll("text").attr("transform","rotate(-90)").attr("x",0).attr("y",-16).attr("dy",null)
    .attr("text-anchor","middle").attr("fill","#000");

  // y title
  if(p.ylab){
    const t = g.append("text").attr("transform",`translate(30,232) rotate(-90)`).attr("text-anchor","middle").attr("font-size",16.5);
    t.append("tspan").text(p.ylab+" ");
    t.append("tspan").attr("font-size",20).text("(");
    t.append("tspan").text("sp \u00B7 Myr");
    t.append("tspan").attr("font-size",11.5).attr("dy",-7).text("\u22121");
    t.append("tspan").attr("font-size",20).attr("dy",7).text(")");
  }
  // panel letter
  const pl = g.append("text").attr("x",48).attr("y",90).attr("font-size",26);
  pl.append("tspan").attr("font-weight","bold").text(p.letter);
  pl.append("tspan").text(")");
}

drawPanel({col:0,row:0,letter:"a",yDomain:[0,0.5],ticks:aTicks,tickLab:aTickLab,ylab:"Speciation rate",ages:agesBD,series:bdSeries,mean:aMean,low:aLow,high:aHigh,alpha:bandAlphaBD});
drawPanel({col:0,row:1,letter:"c",yDomain:[0,0.6],ticks:cTicks,tickLab:cTickLab,ylab:"Extinction rate",ages:agesBD,series:bdSeries,mean:cMean,low:cLow,high:cHigh,alpha:bandAlphaBD});
drawPanel({col:0,row:2,letter:"e",yDomain:[-0.447,0.45],ticks:eTicks,tickLab:eTickLab,ylab:"Net diversification rate",ages:agesBD,series:bdSeries,mean:eMean,low:eLow,high:eHigh,alpha:bandAlphaBD,zero:true});
drawPanel({col:1,row:0,letter:"b",yDomain:[-0.48,8],ticks:rjTicks,tickLab:rjTickLab,ylab:null,ages:agesRJ,series:rjSeries,mean:bMean,low:bLow,high:bHigh,alpha:bandAlphaRJ});
drawPanel({col:1,row:1,letter:"d",yDomain:[-0.48,8],ticks:rjTicks,tickLab:rjTickLab,ylab:null,ages:agesRJ,series:rjSeries,mean:dMean,low:dLow,high:dHigh,alpha:bandAlphaRJ});
drawPanel({col:1,row:2,letter:"f",yDomain:[-7.42,6.98],ticks:fTicks,tickLab:fTickLab,ylab:null,ages:agesRJ,series:rjSeries,mean:fMean,low:fLow,high:fHigh,alpha:bandAlphaRJ,zero:true});

// legend
const legX=[287,511,735];
const lg = svg.append("g");
seriesNames.forEach((nm,i)=>{
  const cx = legX[Math.floor(i/2)], cy = i%2===0?1211:1232;
  lg.append("line").attr("x1",cx+2).attr("x2",cx+33).attr("y1",cy).attr("y2",cy)
    .attr("stroke",seriesColors[i]).attr("stroke-width",5).attr("stroke-linecap","round");
  lg.append("text").attr("x",cx+50).attr("y",cy+6).attr("font-size",17).text(nm);
});
</script>
</body>
</html>
